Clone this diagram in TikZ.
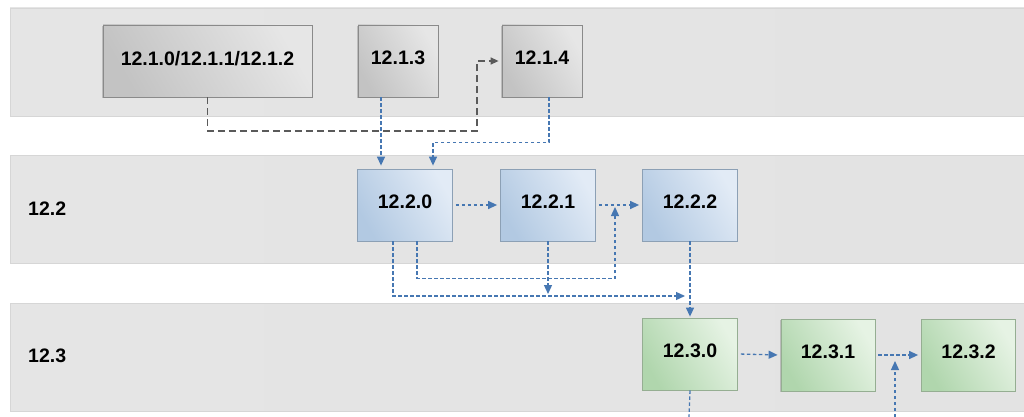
\documentclass[tikz,border=0pt]{standalone}
\usepackage{fontspec}
\setmainfont{Liberation Sans}
\usetikzlibrary{arrows.meta,shadows}
\definecolor{bandl}{HTML}{E5E5E5}
\definecolor{bandm}{HTML}{F4F4F4}
\definecolor{bandr}{HTML}{E3E3E3}
\definecolor{bandline}{HTML}{D6D6D6}
\definecolor{grayl}{HTML}{C3C3C3}
\definecolor{grayr}{HTML}{E6E6E6}
\definecolor{grayline}{HTML}{8A8A8A}
\definecolor{bluel}{HTML}{B2C9E2}
\definecolor{bluer}{HTML}{E2EBF6}
\definecolor{blueline}{HTML}{8CA0B5}
\definecolor{greenl}{HTML}{B0D6AD}
\definecolor{greenr}{HTML}{E6F3E4}
\definecolor{greenline}{HTML}{95AE92}
\definecolor{depblue}{HTML}{4677B2}
\definecolor{oldgray}{HTML}{5A5A5A}
\begin{document}
\begin{tikzpicture}[x=1pt,y=-1pt,
  band/.style={draw=bandline,line width=0.8pt,left color=bandl,middle color=bandm,right color=bandr},
  rel/.style={line width=0.8pt,minimum height=72pt,inner sep=0pt,text depth=6pt,
    font=\fontsize{19.5}{22}\selectfont\bfseries,
    drop shadow={shadow xshift=-0.8pt,shadow yshift=-1.2pt,opacity=0.4}},
  relgray/.style={rel,draw=grayline,left color=grayl,right color=grayr,shading angle=120},
  relblue/.style={rel,draw=blueline,left color=bluel,right color=bluer,shading angle=120},
  relgreen/.style={rel,draw=greenline,left color=greenl,right color=greenr,shading angle=120},
  lbl/.style={anchor=west,inner sep=0pt,font=\fontsize{19.5}{22}\selectfont\bfseries},
  dep/.style={draw=depblue,line width=1.3pt,dash pattern=on 3.5pt off 2.5pt,
    -{Triangle[length=9pt,width=8pt]}},
  old/.style={draw=oldgray,line width=1.4pt,dash pattern=on 7pt off 4pt,
    -{Triangle[length=8pt,width=7pt]}}]
\useasboundingbox (0,0) rectangle (1024,417);
\fill[white] (0,0) rectangle (1024,417);

\shade[band] (10,8) rectangle (1030,116);
\shade[band] (10,155) rectangle (1030,263);
\shade[band] (10,303) rectangle (1030,411);

\node[lbl] (l122) at (28,209) {12.2};
\node[lbl] (l123) at (28,356) {12.3};

\node[relgray,minimum width=209pt] (n1012) at (207.5,61) {12.1.0/12.1.1/12.1.2};
\node[relgray,minimum width=80pt] (n13) at (398,61) {12.1.3};
\node[relgray,minimum width=80pt] (n14) at (542,61) {12.1.4};

\node[relblue,minimum width=95pt] (n20) at (405,205) {12.2.0};
\node[relblue,minimum width=95pt] (n21) at (548,205) {12.2.1};
\node[relblue,minimum width=95pt] (n22) at (690,205) {12.2.2};

\node[relgreen,minimum width=95pt] (n30) at (690,354) {12.3.0};
\node[relgreen,minimum width=94pt] (n31) at (828,355) {12.3.1};
\node[relgreen,minimum width=94pt] (n32) at (968.5,355) {12.3.2};

\coordinate (g1) at (477,131);
\coordinate (j1) at (615,207);
\coordinate (j2) at (685,296);
\coordinate (j3) at (548,294);
\coordinate (j4) at (895,361);
\coordinate (b1) at (689,417);
\coordinate (b2) at (895,417);

\draw[old,shorten >=3pt] (n1012.south) |- (g1) |- (n14.west);

\draw[dep,shorten >=3pt] ([xshift=-17pt]n13.south) -- ([xshift=-24pt]n20.north);
\draw[dep,shorten >=3pt] ([xshift=7pt]n14.south) |- ([xshift=28pt,yshift=26pt]n20.north) -- ([xshift=28pt]n20.north);

\draw[dep,shorten <=3pt,shorten >=3pt] (n20.east) -- (n21.west);
\draw[dep,shorten <=3pt,shorten >=3pt] (n21.east) -- (n22.west);
\draw[dep] ([xshift=12pt]n20.south) -- ++(0,37) -| (j1);
\draw[dep] ([xshift=-12pt]n20.south) |- (j2);
\draw[dep] (n21.south) -- (j3);
\draw[dep,shorten >=1pt] (n22.south) -- (n30.north);

\draw[dep,shorten <=3pt,shorten >=3pt] (n30.east) -- (n31.west);
\draw[dep,shorten <=3pt,shorten >=3pt] (n31.east) -- (n32.west);
\draw[dep,-] (n30.south) -- (b1);
\draw[dep] (b2) -- (j4);
\end{tikzpicture}
\end{document}
